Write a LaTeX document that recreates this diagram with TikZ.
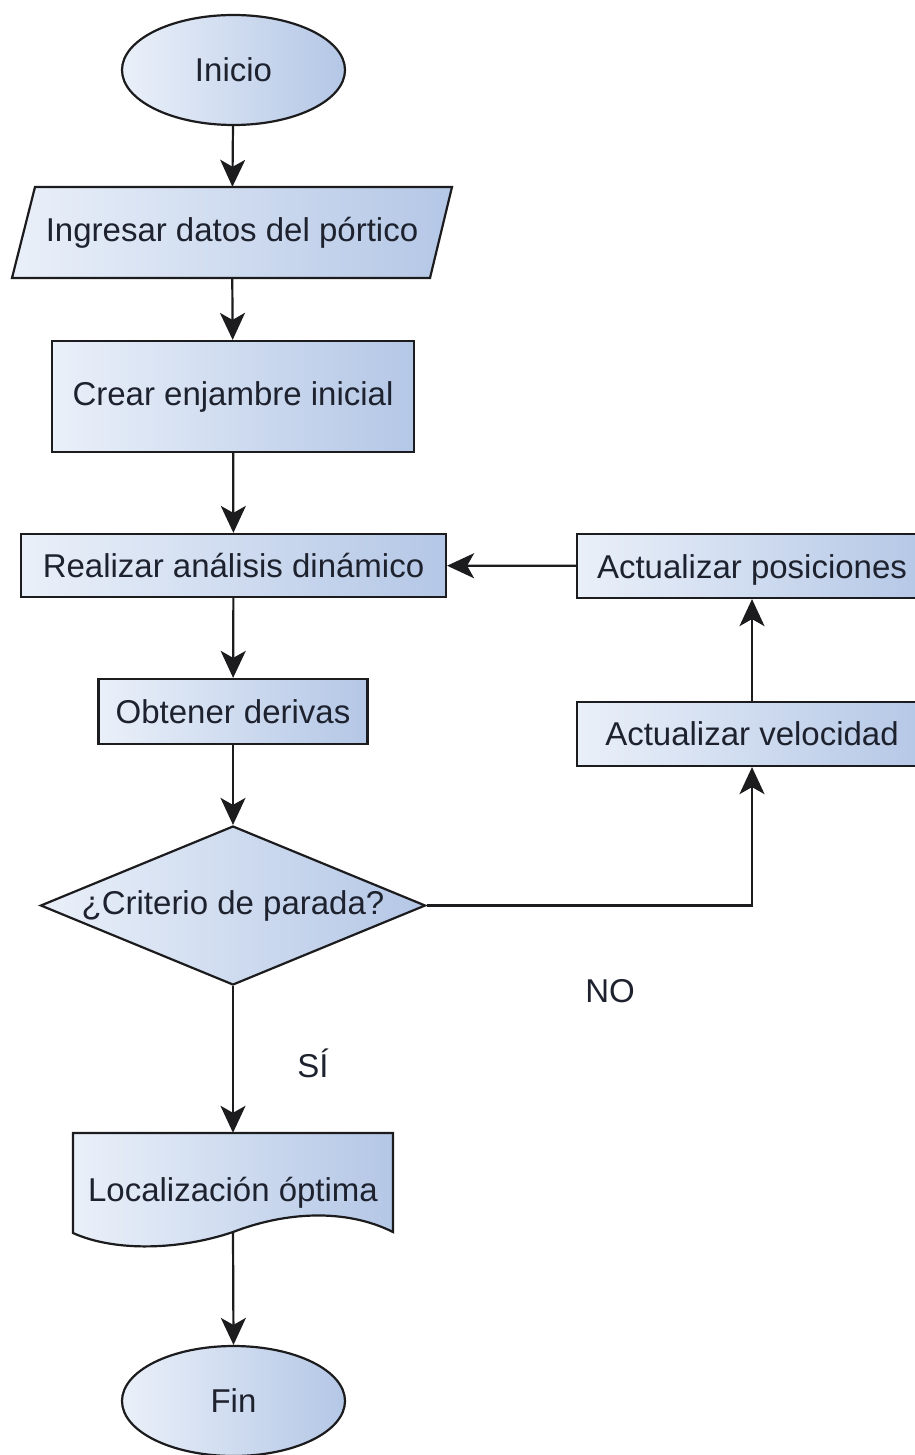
\documentclass[tikz,border=0pt]{standalone}
\usepackage{fontspec}
\setmainfont{Liberation Sans}
\usetikzlibrary{shapes.geometric,arrows.meta}
\definecolor{fillA}{RGB}{234,240,249}
\definecolor{fillB}{RGB}{180,199,230}
\definecolor{edge}{RGB}{28,28,30}
\definecolor{txt}{RGB}{30,34,46}
\tikzset{
  base/.style={draw=edge, line width=2.2pt, left color=fillA, right color=fillB, inner sep=0pt, text=txt, font=\fontsize{33}{40}\selectfont},
  term/.style={base, ellipse, minimum width=223pt, minimum height=110pt},
  proc/.style={base, rectangle},
  dec/.style={base, diamond},
  conn/.style={draw=edge, line width=2.2pt, -{Stealth[length=27pt,width=25pt,inset=7pt]}},
  lbl/.style={text=txt, font=\fontsize{33}{40}\selectfont, inner sep=0pt},
  shapefill/.style={draw=edge, line width=2.2pt, left color=fillA, right color=fillB},
}
\begin{document}
\begin{tikzpicture}[x=1pt,y=-1pt]
\useasboundingbox[fill=white] (0,0) rectangle (914,1455);
\node[term] (inicio) at (233.5,70) {Inicio};
\shade[shapefill] (35,187) -- (452,187) -- (430,278) -- (12,278) -- cycle;
\node[lbl, minimum width=396pt, minimum height=91pt] (ingresar) at (232,232.5) {Ingresar datos del pórtico};
\node[proc, minimum width=362pt, minimum height=111pt] (crear) at (233,396.5) {Crear enjambre inicial};
\node[proc, minimum width=425pt, minimum height=63pt] (realizar) at (233.5,565.5) {Realizar análisis dinámico};
\node[proc, minimum width=269pt, minimum height=65pt] (obtener) at (233,711.5) {Obtener derivas};
\node[dec, minimum width=385pt, minimum height=159pt] (crit) at (233,905.5) {\makebox[0pt]{¿Criterio de parada?}};
\node[proc, minimum width=350pt, minimum height=64pt, text height=26pt, text depth=2pt] (actpos) at (752,566) {Actualizar posiciones};
\node[proc, minimum width=350pt, minimum height=64pt] (actvel) at (752,734) {Actualizar velocidad};
\shade[shapefill]
  (73,1133) -- (393,1133) -- (393,1232)
  .. controls (345,1208) and (285,1212) .. (233,1232)
  .. controls (180,1250) and (115,1252) .. (73,1233) -- cycle;
\node[lbl, minimum width=320pt, minimum height=99pt, text height=44pt, text depth=7pt] (loc) at (233,1182.5) {Localización óptima};
\node[term] (fin) at (233.5,1401) {Fin};
\node[lbl] (no) at (610,991) {NO};
\node[lbl] (si) at (313,1063) {SÍ};
\draw[conn] (inicio) -- (ingresar);
\draw[conn] (ingresar) -- (crear);
\draw[conn] (crear) -- (realizar);
\draw[conn] (realizar) -- (obtener);
\draw[conn] (obtener) -- (crit);
\draw[conn] (crit.south) -- (loc.north);
\draw[conn] (loc.south) -- (fin.north);
\draw[conn] (crit.east) -| (actvel.south);
\draw[conn] (actvel) -- (actpos);
\draw[conn] (actpos) -- (realizar);
\end{tikzpicture}
\end{document}
